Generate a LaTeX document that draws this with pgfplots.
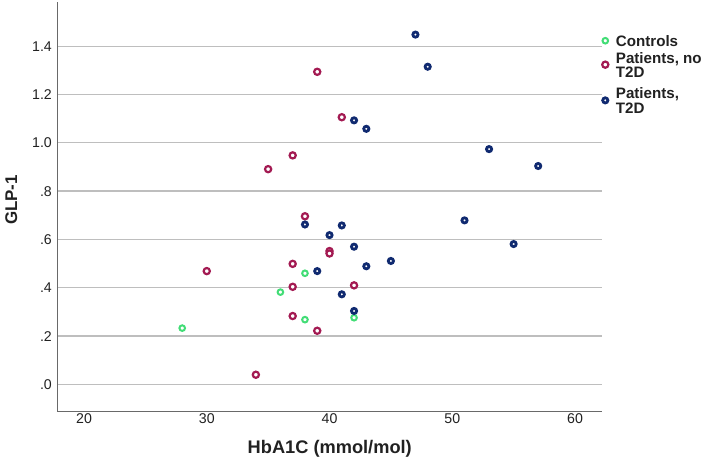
\documentclass[border=0pt]{standalone}
\usepackage{fontspec}
\setmainfont{Liberation Sans}
\usepackage{pgfplots}
\pgfplotsset{compat=1.18}

\definecolor{ctrl}{RGB}{66,221,118}
\definecolor{nodm}{RGB}{163,26,82}
\definecolor{dm}{RGB}{16,42,112}
\definecolor{gridgray}{RGB}{190,190,190}
\definecolor{axisgray}{RGB}{105,105,105}
\definecolor{txt}{RGB}{33,33,33}

\begin{document}
\begin{tikzpicture}[x=1bp,y=1bp]
\useasboundingbox (0,0) rectangle (709,463);
\begin{axis}[
  at={(57.5bp,51.3bp)}, anchor=south west,
  scale only axis, width=544.5bp, height=409.7bp,
  xmin=17.84, xmax=62.2, ymin=-0.113, ymax=1.583,
  clip=false,
  axis x line=bottom, axis y line=left,
  axis line style={draw=axisgray, line width=1.3bp, -},
  xtick={20,30,40,50,60}, xticklabels={20,30,40,50,60},
  ytick={0,0.2,0.4,0.6,0.8,1.0,1.2,1.4},
  yticklabels={.0,.2,.4,.6,.8,1.0,1.2,1.4},
  major tick length=0pt,
  ymajorgrids, grid style={draw=gridgray, line width=1.3bp},
  tick label style={font=\fontsize{14.2}{16}\selectfont, text=txt},
  xticklabel style={anchor=north, inner sep=0pt, yshift=-1.5bp},
  yticklabel style={anchor=east, inner sep=0pt, xshift=-5.5bp},
  xlabel={HbA1C (mmol/mol)}, ylabel={GLP-1},
  xlabel style={font=\bfseries\fontsize{18.3}{20}\selectfont, text=txt,
    at={(axis description cs:0.5,-0.091)}, anchor=center},
  ylabel style={font=\bfseries\fontsize{17}{20}\selectfont, text=txt,
    at={(axis description cs:-0.085,0.5166)}, anchor=center},
  legend cell align=left,
  legend style={at={(axis description cs:1,1)}, anchor=north west,
    xshift=-3bp, yshift=-29.5bp, draw=none, fill=none,
    font=\bfseries\fontsize{15.2}{14}\selectfont, text=txt,
    row sep=2.8bp, column sep=6bp,
    nodes={inner sep=1.5bp, text depth=}},
  legend image code/.code={\draw[mark repeat=2,mark phase=2,#1]
    plot coordinates {(0bp,0bp)(5bp,0bp)(10bp,0bp)};},
]
% Controls
\addplot[only marks, mark=*, mark size=2.8bp,
  mark options={draw=ctrl, fill=white, line width=2bp}]
  coordinates {(28,0.233)(36,0.382)(38,0.460)(38,0.268)(42,0.276)};
\addlegendentry{Controls}
% Patients without type 2 diabetes
\addplot[only marks, mark=*, mark size=3.1bp,
  mark options={draw=nodm, fill=white, line width=2.2bp},
  legend image post style={yshift=2.4bp}]
  coordinates {(30,0.469)(34,0.040)(35,0.891)(37,0.948)(37,0.499)(37,0.404)
    (37,0.283)(38,0.696)(39,1.294)(39,0.222)(40,0.552)(40,0.542)(41,1.106)(42,0.410)};
\addlegendentry{\begin{tabular}{@{}l@{}}Patients, no\\T2D\end{tabular}}
% Patients with type 2 diabetes
\addplot[only marks, mark=*, mark size=2.6bp,
  mark options={draw=dm, fill=white, line width=2.8bp},
  legend image post style={yshift=2.4bp}]
  coordinates {(38,0.662)(39,0.469)(40,0.618)(41,0.658)(41,0.373)(42,1.093)
    (42,0.570)(42,0.304)(43,1.058)(43,0.489)(45,0.511)(47,1.448)(48,1.315)
    (51,0.679)(53,0.974)(55,0.581)(57,0.904)};
\addlegendentry{\begin{tabular}{@{}l@{}}Patients,\\T2D\end{tabular}}
\end{axis}
\end{tikzpicture}
\end{document}
